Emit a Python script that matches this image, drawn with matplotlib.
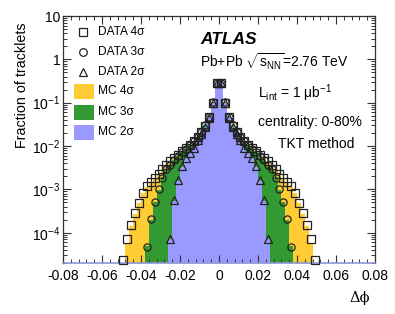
import matplotlib
matplotlib.use("Agg")
import matplotlib.pyplot as plt
import numpy as np
from matplotlib.patches import Rectangle
from matplotlib.lines import Line2D
from matplotlib.ticker import FixedLocator, LogLocator, NullFormatter

plt.rcParams['font.family'] = ['Liberation Sans', 'DejaVu Sans']
plt.rcParams['mathtext.fontset'] = 'custom'
plt.rcParams['mathtext.rm'] = 'Liberation Sans'
plt.rcParams['mathtext.it'] = 'Liberation Sans:italic'
plt.rcParams['mathtext.bf'] = 'Liberation Sans:bold'
plt.rcParams['axes.unicode_minus'] = False

# ---------------- data ----------------
bin_centers = [-0.049, -0.047, -0.045, -0.043, -0.041, -0.039, -0.037, -0.035, -0.033, -0.031,
               -0.029, -0.027, -0.025, -0.023, -0.021, -0.019, -0.017, -0.015, -0.013, -0.011,
               -0.009, -0.007, -0.005, -0.003, -0.001,
               0.001, 0.003, 0.005, 0.007, 0.009, 0.011, 0.013, 0.015, 0.017, 0.019,
               0.021, 0.023, 0.025, 0.027, 0.029, 0.031, 0.033, 0.035, 0.037, 0.039,
               0.041, 0.043, 0.045, 0.047, 0.049]
bin_width = 0.002

data_4s = [2.3e-5, 7.1e-5, 1.49e-4, 2.8e-4, 4.9e-4, 8.4e-4, 1.17e-3, 1.49e-3, 1.81e-3, 2.27e-3,
           2.88e-3, 3.66e-3, 4.41e-3, 5.16e-3, 6.21e-3, 7.48e-3, 8.99e-3, 1.08e-2, 1.30e-2, 1.61e-2,
           2.10e-2, 2.96e-2, 4.64e-2, 0.100, 0.281,
           0.281, 0.100, 4.64e-2, 2.96e-2, 2.10e-2, 1.61e-2, 1.30e-2, 1.08e-2, 8.99e-3, 7.48e-3,
           6.21e-3, 5.16e-3, 4.41e-3, 3.66e-3, 2.88e-3, 2.27e-3, 1.81e-3, 1.49e-3, 1.17e-3, 8.4e-4,
           4.9e-4, 2.8e-4, 1.49e-4, 7.1e-5, 2.3e-5]

data_3s = [0, 0, 0, 0, 0, 0, 4.7e-5, 2.12e-4, 5.2e-4, 1.00e-3,
           1.86e-3, 2.88e-3, 3.66e-3, 4.65e-3, 5.74e-3, 7.10e-3, 8.53e-3, 1.05e-2, 1.30e-2, 1.65e-2,
           2.16e-2, 3.04e-2, 4.77e-2, 0.1026, 0.288,
           0.288, 0.1026, 4.77e-2, 3.04e-2, 2.16e-2, 1.65e-2, 1.30e-2, 1.05e-2, 8.53e-3, 7.10e-3,
           5.74e-3, 4.65e-3, 3.66e-3, 2.88e-3, 1.86e-3, 1.00e-3, 5.2e-4, 2.12e-4, 4.7e-5, 0,
           0, 0, 0, 0, 0]

data_2s = [0, 0, 0, 0, 0, 0, 0, 0, 0, 0,
           0, 0, 7.0e-5, 5.7e-4, 1.67e-3, 3.4e-3, 5.3e-3, 7.0e-3, 9.1e-3, 1.39e-2,
           1.90e-2, 2.70e-2, 4.45e-2, 0.098, 0.288,
           0.288, 0.098, 4.45e-2, 2.70e-2, 1.90e-2, 1.39e-2, 9.1e-3, 7.0e-3, 5.3e-3, 3.4e-3,
           1.67e-3, 5.7e-4, 7.0e-5, 0, 0, 0, 0, 0, 0, 0,
           0, 0, 0, 0, 0]

mc_4s = [0, 5.5e-5, 1.4e-4, 2.7e-4, 4.8e-4, 8.2e-4, 1.15e-3, 1.5e-3, 1.8e-3, 2.3e-3,
         2.9e-3, 3.7e-3, 4.4e-3, 5.2e-3, 6.2e-3, 7.5e-3, 9.0e-3, 1.07e-2, 1.29e-2, 1.60e-2,
         2.10e-2, 2.95e-2, 4.6e-2, 0.100, 0.280,
         0.280, 0.100, 4.6e-2, 2.95e-2, 2.10e-2, 1.60e-2, 1.29e-2, 1.07e-2, 9.0e-3, 7.5e-3,
         6.2e-3, 5.2e-3, 4.4e-3, 3.7e-3, 2.9e-3, 2.3e-3, 1.8e-3, 1.5e-3, 1.15e-3, 8.2e-4,
         4.8e-4, 2.7e-4, 1.4e-4, 5.5e-5, 0]

mc_3s = [0, 0, 0, 0, 0, 0, 5.0e-5, 2.0e-4, 5.0e-4, 9.8e-4,
         1.9e-3, 2.9e-3, 3.7e-3, 4.7e-3, 5.8e-3, 7.1e-3, 8.5e-3, 1.04e-2, 1.28e-2, 1.63e-2,
         2.15e-2, 3.05e-2, 4.8e-2, 0.103, 0.285,
         0.285, 0.103, 4.8e-2, 3.05e-2, 2.15e-2, 1.63e-2, 1.28e-2, 1.04e-2, 8.5e-3, 7.1e-3,
         5.8e-3, 4.7e-3, 3.7e-3, 2.9e-3, 1.9e-3, 9.8e-4, 5.0e-4, 2.0e-4, 5.0e-5, 0,
         0, 0, 0, 0, 0]

mc_2s = [0, 0, 0, 0, 0, 0, 0, 0, 0, 0,
         0, 0, 7.0e-5, 5.5e-4, 1.6e-3, 3.3e-3, 5.2e-3, 7.2e-3, 9.5e-3, 1.40e-2,
         1.92e-2, 2.75e-2, 4.6e-2, 0.100, 0.285,
         0.285, 0.100, 4.6e-2, 2.75e-2, 1.92e-2, 1.40e-2, 9.5e-3, 7.2e-3, 5.2e-3, 3.3e-3,
         1.6e-3, 5.5e-4, 7.0e-5, 0, 0, 0, 0, 0, 0, 0,
         0, 0, 0, 0, 0]

xticks = [-0.08, -0.06, -0.04, -0.02, 0.0, 0.02, 0.04, 0.06, 0.08]
xtick_labels = ["-0.08", "-0.06", "-0.04", "-0.02", "0", "0.02", "0.04", "0.06", "0.08"]
yticks = [1e-4, 1e-3, 1e-2, 1e-1, 1, 10]
ytick_labels = [r"$10^{-4}$", r"$10^{-3}$", r"$10^{-2}$", r"$10^{-1}$", "1", "10"]

col_4s = '#FFCC33'
col_3s = '#339933'
col_2s = '#9999FF'

# ---------------- figure ----------------
W, H = 395, 314
fig = plt.figure(figsize=(W / 100, H / 100), dpi=100)
ax = fig.add_axes([63 / W, 1 - 263 / H, 312 / W, 247 / H])
ax.set_yscale('log')
ax.set_xlim(-0.08, 0.08)
ax.set_ylim(2e-5, 10)

centers = np.array(bin_centers)
edges = np.concatenate([centers - bin_width / 2, [centers[-1] + bin_width / 2]])
floor = 1e-8
for vals, col in [(mc_4s, col_4s), (mc_3s, col_3s), (mc_2s, col_2s)]:
    v = np.array(vals, dtype=float)
    v = np.where(v > 0, v, floor)
    ax.stairs(v, edges, baseline=floor, fill=True, color=col, lw=0, zorder=1)

for vals, mk in [(data_4s, 's'), (data_3s, 'o'), (data_2s, '^')]:
    v = np.array(vals, dtype=float)
    m = v > 0
    ax.plot(centers[m], v[m], ls='none', marker=mk, ms=5.2, mfc='none', mec='#222222',
            mew=0.9, zorder=3, clip_on=False)

# ticks
ax.xaxis.set_major_locator(FixedLocator(xticks))
ax.set_xticklabels(xtick_labels)
ax.xaxis.set_minor_locator(FixedLocator(np.arange(-0.08, 0.0801, 0.004)))
ax.yaxis.set_major_locator(FixedLocator(yticks))
ax.set_yticklabels(ytick_labels)
ax.yaxis.set_minor_locator(LogLocator(base=10, subs=np.arange(2, 10)))
ax.yaxis.set_minor_formatter(NullFormatter())
ax.tick_params(which='both', direction='in', top=True, right=True, labelsize=10, colors='#333333',
               labelcolor='black')
ax.tick_params(which='major', length=6, width=0.8)
ax.tick_params(which='minor', length=3, width=0.7)
ax.tick_params(axis='x', pad=4)
ax.tick_params(axis='y', pad=2)
for s in ax.spines.values():
    s.set_linewidth(0.9)
    s.set_color('#333333')
ax.spines['bottom'].set_color('#8c96d8')
ax.spines['bottom'].set_linewidth(1.2)

# axis labels
fig.text(22 / W, 1 - 22 / H, "Fraction of tracklets", rotation=90, ha='center', va='top', fontsize=10.3)
fig.text(370 / W, 1 - 298 / H, "Δϕ", ha='right', va='center', fontsize=10.5, family=['DejaVu Serif'])


def px(x, y):
    return (x / W, 1 - y / H)


# legend (manual)
leg_rows = [("DATA 4σ", 's', None), ("DATA 3σ", 'o', None), ("DATA 2σ", '^', None),
            ("MC 4σ", None, col_4s), ("MC 3σ", None, col_3s), ("MC 2σ", None, col_2s)]
row_y = [32, 52, 72, 91, 112, 132]
for (label, mk, col), yy in zip(leg_rows, row_y):
    if mk is not None:
        fig.add_artist(Line2D([83.3 / W], [1 - yy / H], marker=mk, ms=5.5, mfc='none', mec='#222222',
                              mew=0.9, ls='none', transform=fig.transFigure))
    else:
        fig.add_artist(Rectangle(px(74, yy + 7.5), 20 / W, 15 / H, facecolor=col, edgecolor='none',
                                 transform=fig.transFigure))
    fig.text(98 / W, 1 - yy / H, label, ha='left', va='center', fontsize=8.6)

# annotations
fig.text(200 / W, 1 - 40 / H, "ATLAS", ha='left', va='center', fontsize=12.5, fontweight='bold',
         fontstyle='italic')
fig.text(200 / W, 1 - 62 / H, r"Pb+Pb $\sqrt{\mathrm{s}_{\mathrm{NN}}}$=2.76 TeV", ha='left', va='center',
         fontsize=10)
fig.text(258 / W, 1 - 93 / H, r"L$_{\mathrm{int}}$ = 1 μb$^{-1}$", ha='left', va='center', fontsize=10)
fig.text(258 / W, 1 - 122 / H, "centrality: 0-80%", ha='left', va='center', fontsize=10)
fig.text(278 / W, 1 - 144 / H, "TKT method", ha='left', va='center', fontsize=10)

fig.savefig("out.png", dpi=100)
